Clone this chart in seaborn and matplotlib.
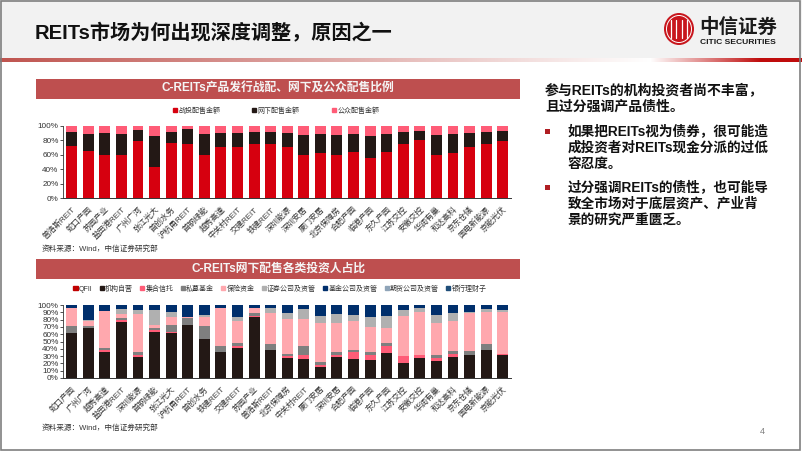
import numpy as np
import matplotlib
matplotlib.use('Agg')
import matplotlib.pyplot as plt
from matplotlib.patches import Rectangle, Ellipse, Patch
import seaborn as sns

# top chart
names_top = ['普洛斯REIT', '蛇口产园', '苏园产业', '盐田港REIT', '广州广河', '张江光大', '首创水务', '沪杭甬REIT', '首钢绿能',
             '越秀高速', '中关村REIT', '交建REIT', '铁建REIT', '深圳能源', '深圳安居', '厦门安居', '北京保障房', '合肥产园',
             '临港产园', '东久产园', '江苏交控', '安徽交控', '华润有巢', '和达高科', '京东仓储', '国电新能源', '京能光伏']
strategic = [72, 65, 60, 60, 79, 43, 76, 75, 60, 70, 70, 75, 75, 70, 60, 62, 60, 64, 55, 64, 75, 80, 60, 63, 70, 75, 79]
offline = [19, 24, 29.5, 28, 14.5, 42.5, 16, 21, 28, 20.5, 20.5, 17, 17, 20, 27, 26, 27, 24.5, 31, 24.5, 16, 13, 27, 25, 20, 16, 13.5]
public = [9, 11, 10.5, 12, 6.5, 14.5, 8, 4, 12, 9.5, 9.5, 8, 8, 10, 13, 12, 13, 11.5, 14, 11.5, 9, 7, 13, 12, 10, 9, 7.5]

# bottom chart
names_bot = ['蛇口产园', '广州广河', '越秀高速', '盐田港REIT', '深圳能源', '首钢绿能', '张江光大', '沪杭甬REIT', '首创水务',
             '铁建REIT', '交建REIT', '苏园产业', '普洛斯REIT', '北京保障房', '中关村REIT', '厦门安居', '深圳安居', '合肥产园',
             '临港产园', '东久产园', '江苏交控', '安徽交控', '华润有巢', '和达高科', '京东仓储', '国电新能源', '京能光伏']
qfii = [0, 0, 0, 0, 0, 0, 0, 0, 0, 0, 0, 0, 0, 0, 0, 0, 0, 0, 0, 0, 0, 0, 0, 0, 0, 0, 0]
self_run = [61, 69, 35, 77, 29, 63, 61, 72, 53, 35, 41, 84, 39, 27.5, 26.5, 15, 29, 26.5, 25, 34, 21, 27.5, 23, 29, 31, 39, 32]
trust = [.5, 0, 3, 2.5, 2, 2.5, 2.5, 0, 0, 0, 2.5, 1, 0, 2.5, 4.5, 3, 3, 8.5, 7, 10, 9, 3.5, 4.5, 4, 1, 0, 1.5]
private = [9.5, 2.5, 3, 2.5, 4, 2.5, 8.5, 10.5, 18.5, 9.5, 4, 3.5, 7, 3.5, 12.5, 4, 4, 4, 4, 4, 0, 1, 4.5, 3.5, 4.5, 7, 0]
insurance = [25, 6.5, 51, 5, 52, 4, 11, 1.5, 11.5, 51, 30.5, 7.5, 42.5, 48, 38, 53, 39, 39, 34, 21, 55, 59, 43, 41.5, 52, 44, 57.5]
broker = [.5, 1.5, 0, 8, 6, 21, 7, 0, 3, .5, 6, 0, 7, 7, 12.5, 10, 12.5, 8.5, 14, 15.5, 8, 4.5, 11.5, 10.5, 2.5, 4.5, 2.5]
fund = [3.5, 20.5, 8, 5, 7, 7, 10, 16, 14, 4, 16, 4, 4.5, 11.5, 6, 15, 12.5, 13.5, 16, 15.5, 7, 4.5, 13.5, 11.5, 9, 5.5, 6.5]
futures = [0, 0, 0, 0, 0, 0, 0, 0, 0, 0, 0, 0, 0, 0, 0, 0, 0, 0, 0, 0, 0, 0, 0, 0, 0, 0, 0]
bank = [0, 0, 0, 0, 0, 0, 0, 0, 0, 0, 0, 0, 0, 0, 0, 0, 0, 0, 0, 0, 0, 0, 0, 0, 0, 0, 0]

top_series = [('战投配售金额', strategic, '#D6000F'), ('网下配售金额', offline, '#231815'), ('公众配售金额', public, '#FF5C77')]
bot_series = [('QFII', qfii, '#C00000'), ('机构自营', self_run, '#231815'), ('集合信托', trust, '#FF5C77'),
              ('私募基金', private, '#7F7F7F'), ('保险资金', insurance, '#FFA8AE'), ('证券公司及资管', broker, '#B0B0B0'),
              ('基金公司及资管', fund, '#002F6C'), ('期货公司及资管', futures, '#8FA4B8'), ('银行理财子', bank, '#1F4E79')]

sns.set_theme(style='white')
plt.rcParams['font.family'] = ['Liberation Sans', 'Noto Sans CJK SC', 'DejaVu Sans']
W, H = 802, 451
fig = plt.figure(figsize=(W / 100, H / 100), dpi=100)

# page furniture in pixel coordinates
bg = fig.add_axes([0, 0, 1, 1], zorder=0)
bg.axis('off')
bg.add_patch(Rectangle((0, 0), W, 58, color='#F2F2F2', lw=0))
ramp = np.ones((1, W, 3))
red_l, red_r = np.array([.75, .33, .31]), np.array([.75, .05, .05])
for i in range(W):
    if i < 650:
        t = i / 650
        ramp[0, i] = red_l * (1 - t) + np.ones(3) * t
    else:
        t = min((i - 650) / 110, 1)
        ramp[0, i] = np.ones(3) * (1 - t) + red_r * t
bg.imshow(ramp, extent=(0, W, 62, 58), aspect='auto', zorder=1)
bg.set_xlim(0, W)
bg.set_ylim(H, 0)
bg.add_patch(Rectangle((.5, .5), W - 2.5, H - 1.5, fill=False, ec='#7F7F7F', lw=1.2, zorder=5))

bg.text(35, 33, 'REITs市场为何出现深度调整，原因之一', fontsize=14.5, fontweight='bold', color='#111111', va='center')

# logo
bg.add_patch(Ellipse((679, 29), 30, 32, color='#C8161D', lw=0))
bg.add_patch(Ellipse((679, 29), 25, 27, fill=False, ec='white', lw=0.7))
for dx in (-8, -3, 3, 8):
    bg.plot([679 + dx, 679 + dx], [20, 38], color='white', lw=0.9)
bg.text(699, 27, '中信证券', fontsize=14, fontweight='bold', color='#1A1A1A', va='center')
bg.text(700, 42, 'CITIC SECURITIES', fontsize=6.1, fontweight='bold', color='#1A1A1A', va='center')

# chart banners and sources
for y, title in [(79, 'C-REITs产品发行战配、网下及公众配售比例'), (259, 'C-REITs网下配售各类投资人占比')]:
    bg.add_patch(Rectangle((36, y), 484, 20, color='#BE4F4F', lw=0))
    bg.text(278, y + 10, title, fontsize=8.5, fontweight='bold', color='#F5F5F5', ha='center', va='center')
for y in (249, 428):
    bg.text(42, y, '资料来源：Wind，中信证券研究部', fontsize=5.5, color='#333333', va='center')

# right hand text
for y, line in [(90.5, '参与REITs的机构投资者尚不丰富，'), (107, '且过分强调产品债性。')]:
    bg.text(545, y, line, fontsize=10, fontweight='bold', color='#111111', va='center')
for y, line in [(131, '如果把REITs视为债券，很可能造'), (147.5, '成投资者对REITs现金分派的过低'), (164, '容忍度。'),
                (187, '过分强调REITs的债性，也可能导'), (204, '致全市场对于底层资产、产业背'), (221, '景的研究严重匮乏。')]:
    bg.text(568, y, line, fontsize=9.8, fontweight='bold', color='#111111', va='center')
for y in (131, 187):
    bg.add_patch(Rectangle((545, y - 2.5), 5, 5, color='#B01E23', lw=0))
bg.text(762, 432, '4', fontsize=6.5, color='#7F7F7F', ha='center', va='center')


def stacked(names, series, top_px, bottom_px, yticks, legend_xy, col_gap):
    ax = fig.add_axes([63.4 / W, 1 - bottom_px / H, (511 - 63.4) / W, (bottom_px - top_px) / H], zorder=2)
    ax.patch.set_alpha(0)
    tops = np.cumsum([s[1] for s in series], axis=0)
    # tallest first so the lower parts sit on top of it
    for (label, vals, color), cum in reversed(list(zip(series, tops))):
        sns.barplot(x=names, y=cum, color=color, saturation=1, width=0.66, linewidth=0, ax=ax)
    ax.set_xlim(-.5, 26.5)
    ax.set_ylim(0, 100)
    ax.set_yticks(yticks)
    ax.set_yticklabels([f'{v}%' for v in yticks], fontsize=5.9, color='#333333')
    ax.set_xticks(range(len(names)))
    ax.set_xticklabels(names, rotation=45, ha='right', rotation_mode='anchor', fontsize=5.8, color='#333333')
    ax.set_xticks(np.arange(-.5, 27), minor=True)
    ax.tick_params(axis='x', which='major', length=0, pad=5)
    ax.tick_params(axis='x', which='minor', length=2, width=.6, color='#333333')
    ax.tick_params(axis='y', length=2, width=.6, color='#333333', pad=1.5, left=True)
    sns.despine(ax=ax)
    ax.spines['left'].set_linewidth(.6)
    ax.spines['bottom'].set_linewidth(.7)
    ax.spines['left'].set_color('#333333')
    ax.spines['bottom'].set_color('#333333')
    handles = [Patch(color=s[2], label=s[0]) for s in series]
    ax.legend(handles=handles, ncol=len(series), loc='center', bbox_to_anchor=legend_xy,
              bbox_transform=fig.transFigure, frameon=False, fontsize=5, handlelength=.6, handleheight=.6,
              handletextpad=.2, columnspacing=col_gap, labelcolor='#333333', borderpad=0)


stacked(names_top, top_series, 125.7, 198.3, list(range(0, 101, 20)), (276 / W, 1 - 111 / H), 4.6)
stacked(names_bot, bot_series, 305, 378, list(range(0, 101, 10)), (280 / W, 1 - 289 / H), 1.0)

fig.savefig('out.png', dpi=100)
